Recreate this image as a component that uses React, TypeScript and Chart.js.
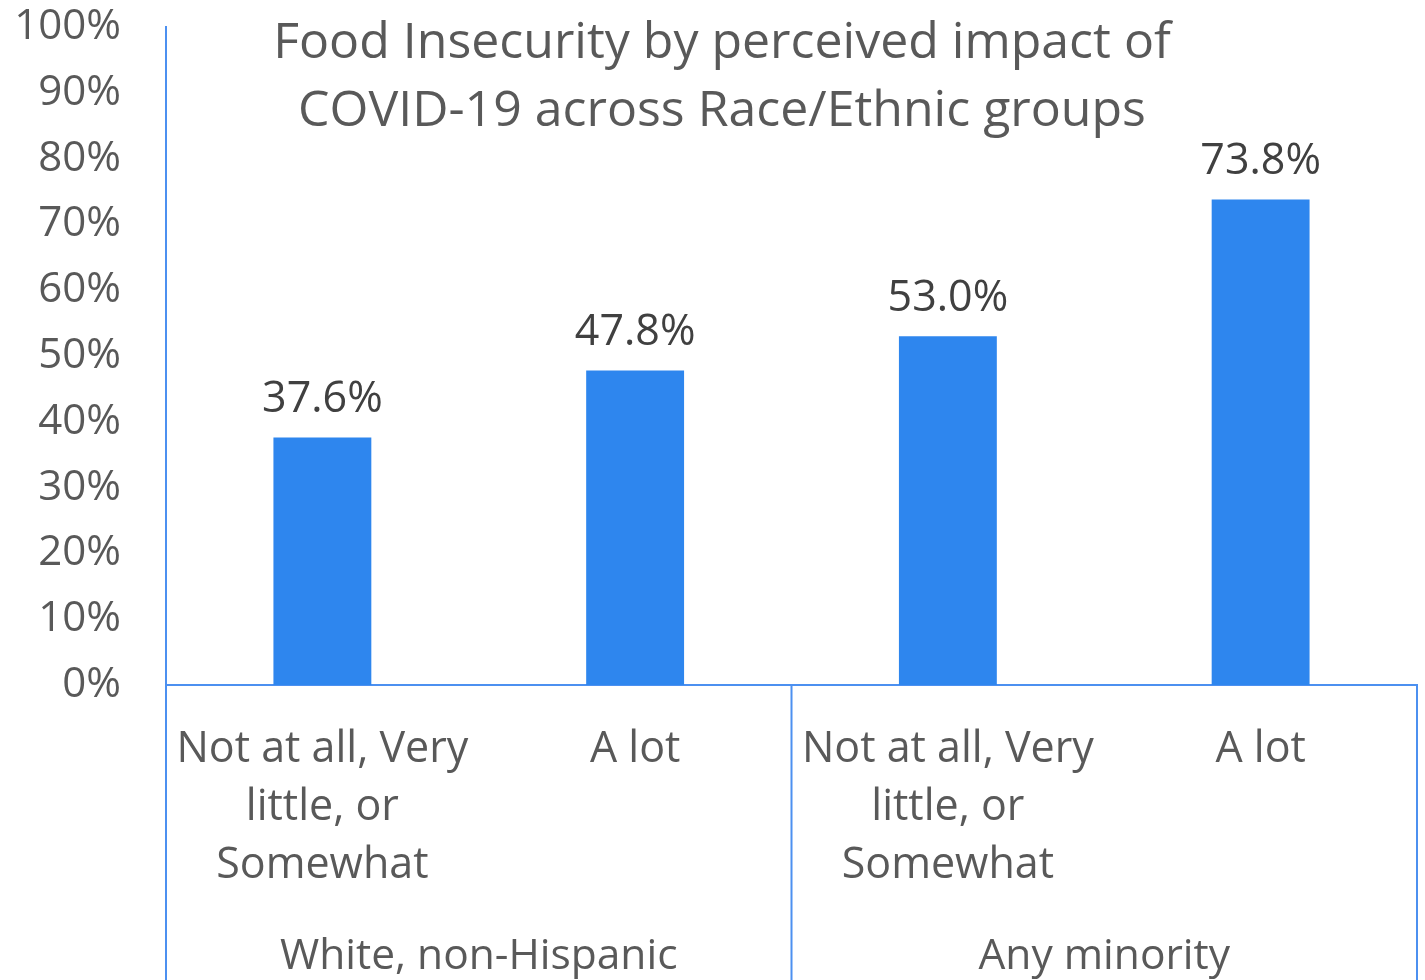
import React, { useEffect, useRef } from "react";
import { Chart, registerables } from "chart.js";

Chart.register(...registerables);

const categories: string[][] = [
  ["Not at all, Very", "little, or", "Somewhat"],
  ["A lot"],
  ["Not at all, Very", "little, or", "Somewhat"],
  ["A lot"],
];
const groups: string[] = ["White, non-Hispanic", "Any minority"];
const groupSizes: number[] = [2, 2];
const values: number[] = [37.6, 47.8, 53.0, 73.8];
const titleLines: string[] = ["Food Insecurity by perceived impact of", "COVID-19 across Race/Ethnic groups"];

const FONT = "'Open Sans', sans-serif";
const TEXT = "#595959";
const BAR = "#2E86EE";
const AXIS = "#4C90F0";

const overlay = {
  id: "overlay",
  afterDraw(chart: any) {
    const { ctx, chartArea, scales } = chart;
    const x = scales.x;
    const H = chart.height;
    ctx.save();
    ctx.strokeStyle = AXIS;
    ctx.lineWidth = 2;
    let idx = 0;
    const bounds: number[] = [chartArea.left];
    groupSizes.forEach((n) => {
      idx += n;
      const px = idx >= categories.length ? chartArea.right : (x.getPixelForValue(idx - 1) + x.getPixelForValue(idx)) / 2;
      bounds.push(px);
    });
    bounds.forEach((bx) => {
      ctx.beginPath();
      ctx.moveTo(bx, chartArea.bottom);
      ctx.lineTo(bx, H);
      ctx.stroke();
    });
    ctx.fillStyle = TEXT;
    ctx.font = `42.5px ${FONT}`;
    ctx.textAlign = "center";
    ctx.textBaseline = "middle";
    groups.forEach((g, i) => {
      ctx.fillText(g, (bounds[i] + bounds[i + 1]) / 2, 957);
    });
    const meta = chart.getDatasetMeta(0);
    ctx.fillStyle = "#404040";
    ctx.font = `43px ${FONT}`;
    meta.data.forEach((bar: any, i: number) => {
      ctx.fillText(values[i].toFixed(1) + "%", bar.x, bar.y - 38);
    });
    ctx.fillStyle = TEXT;
    ctx.font = `50px ${FONT}`;
    titleLines.forEach((t, i) => {
      ctx.fillText(t, 722, 44 + i * 68);
    });
    ctx.restore();
  },
};

export default function App() {
  const ref = useRef<HTMLCanvasElement>(null);
  useEffect(() => {
    document.body.style.margin = "0";
    const chart = new Chart(ref.current!, {
      type: "bar",
      data: {
        labels: categories,
        datasets: [
          {
            data: values,
            backgroundColor: BAR,
            barPercentage: 0.313,
            categoryPercentage: 1,
          },
        ],
      },
      options: {
        responsive: false,
        animation: false,
        layout: { padding: { top: 27, right: 8, left: 0, bottom: 0 } },
        plugins: { legend: { display: false }, tooltip: { enabled: false } },
        scales: {
          x: {
            grid: { display: false },
            border: { display: true, color: AXIS, width: 2 },
            ticks: {
              color: TEXT,
              font: { family: FONT, size: 43, lineHeight: 1.35 },
              padding: 28,
              maxRotation: 0,
              autoSkip: false,
            },
            afterFit: (s: any) => {
              s.height = 295;
              s.paddingLeft = 0;
              s.paddingRight = 0;
            },
          },
          y: {
            min: 0,
            max: 100,
            grid: { display: false },
            border: { display: true, color: AXIS, width: 2 },
            ticks: {
              stepSize: 10,
              color: TEXT,
              font: { family: FONT, size: 42 },
              padding: 37,
              callback: (v: any) => v + "%",
            },
            afterFit: (s: any) => {
              s.width = 166;
              s.paddingTop = 0;
              s.paddingBottom = 0;
            },
          },
        },
      },
      plugins: [overlay],
    });
    return () => chart.destroy();
  }, []);
  return (
    <div style={{ position: "absolute", left: 0, top: 0, width: 1425, height: 980, background: "#fff" }}>
      <canvas ref={ref} width={1425} height={980} />
    </div>
  );
}
